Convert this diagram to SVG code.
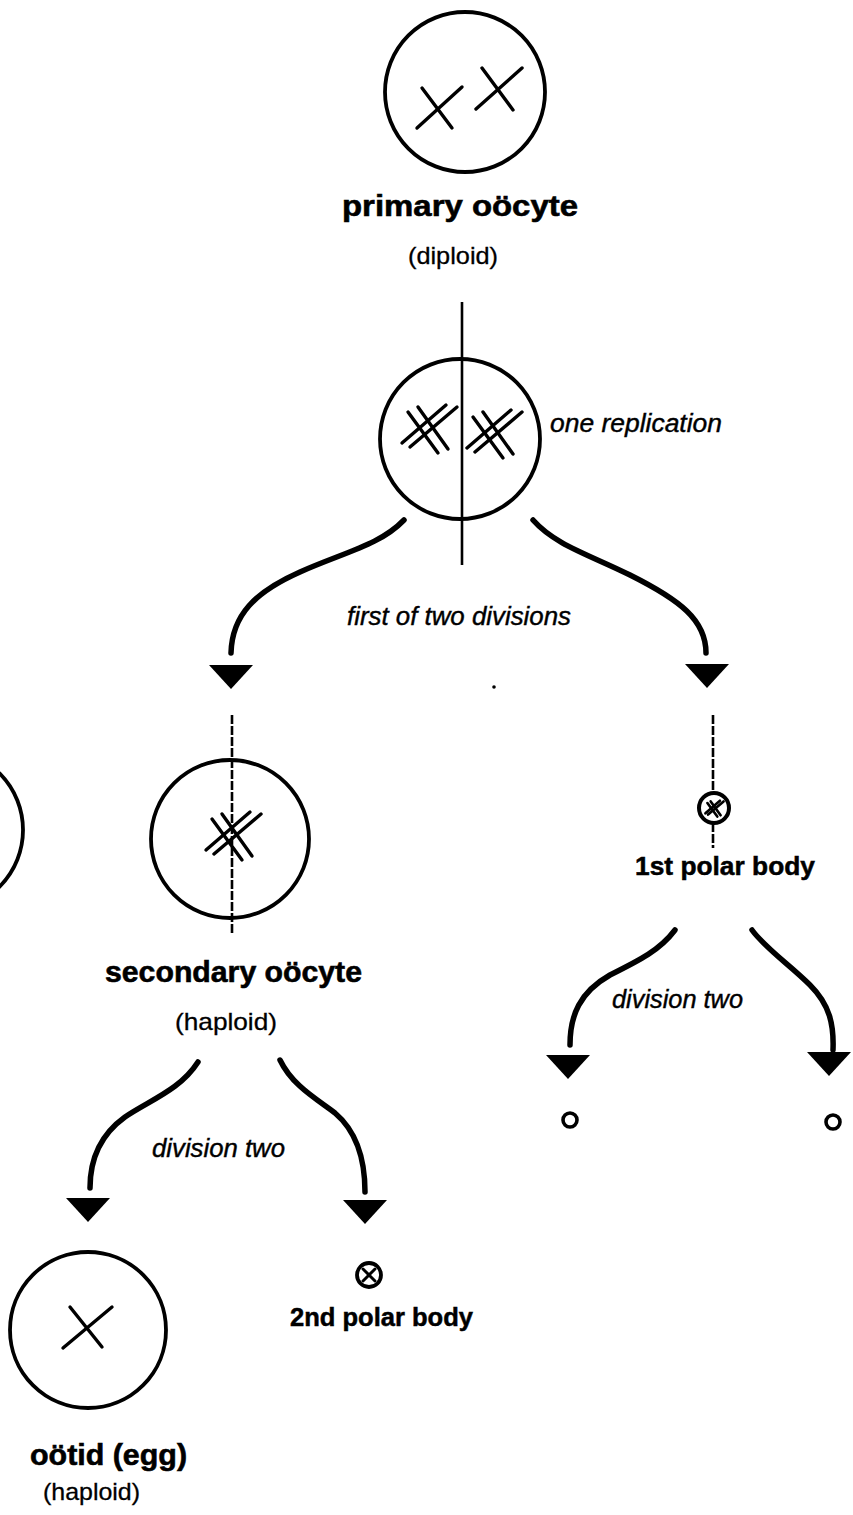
<svg xmlns="http://www.w3.org/2000/svg" width="853" height="1515" viewBox="0 0 853 1515">
<defs>
<style>
.cell{fill:none;stroke:#000;stroke-width:3.8}
.chr{stroke:#000;stroke-width:3.4;stroke-linecap:round;fill:none}
.axis{stroke:#000;stroke-width:2.6;fill:none}
.axis-d{stroke:#000;stroke-width:2.6;fill:none;stroke-dasharray:9 2}
.conn{fill:none;stroke:#000;stroke-width:5.5;stroke-linecap:round}
.head{fill:#000;stroke:none}
.lbl{font-family:"Liberation Sans",Arial,Helvetica,sans-serif;font-weight:bold;font-size:30px;fill:#000;stroke:#000;stroke-width:0.6}
.lbl-s{font-family:"Liberation Sans",Arial,Helvetica,sans-serif;font-weight:bold;font-size:26px;fill:#000;stroke:#000;stroke-width:0.5}
.sub{font-family:"Liberation Sans",Arial,Helvetica,sans-serif;font-size:24px;fill:#000;stroke:#000;stroke-width:0.3}
.note{font-family:"Liberation Sans",Arial,Helvetica,sans-serif;font-style:italic;font-size:25px;fill:#000;stroke:#000;stroke-width:0.4}
</style>
<g id="dx">
<line x1="-26" y1="16" x2="18" y2="-22"/>
<line x1="-18" y1="20" x2="29" y2="-20"/>
<line x1="-20" y1="-15" x2="10" y2="26"/>
<line x1="-10" y1="-20" x2="20" y2="22"/>
</g>
<path id="tri" d="M-22 0 L22 0 L0 24 Z"/>
</defs>
<rect width="853" height="1515" fill="#fff"/>

<g id="primary-oocyte">
<circle class="cell" cx="465" cy="92" r="80"/>
<line class="chr" x1="422" y1="88" x2="452" y2="128"/>
<line class="chr" x1="417" y1="128" x2="462" y2="87"/>
<line class="chr" x1="482" y1="68" x2="513" y2="110"/>
<line class="chr" x1="476" y1="109" x2="522" y2="68"/>
<text class="lbl" x="342" y="216" textLength="236" lengthAdjust="spacingAndGlyphs">primary oöcyte</text>
<text class="sub" x="408" y="264" textLength="90" lengthAdjust="spacingAndGlyphs">(diploid)</text>
</g>

<g id="replication">
<line class="axis" x1="462" y1="302" x2="462" y2="565"/>
<circle class="cell" cx="460" cy="439" r="80"/>
<use href="#dx" class="chr" transform="translate(428,427)"/>
<use href="#dx" class="chr" transform="translate(493,432)"/>
<text class="note" x="550" y="432" textLength="172" lengthAdjust="spacingAndGlyphs">one replication</text>
</g>

<g id="offscreen-cell">
<circle class="cell" cx="-57" cy="830" r="80"/>
</g>

<g id="secondary-oocyte">
<line class="axis-d" x1="232" y1="715" x2="232" y2="935"/>
<circle class="cell" cx="230" cy="839" r="79"/>
<use href="#dx" class="chr" transform="translate(232,834)"/>
<text class="lbl" x="105" y="982" textLength="257" lengthAdjust="spacingAndGlyphs">secondary oöcyte</text>
<text class="sub" x="175" y="1030" textLength="102" lengthAdjust="spacingAndGlyphs">(haploid)</text>
</g>

<g id="first-polar-body">
<line class="axis-d" x1="713" y1="715" x2="713" y2="793"/>
<line class="axis-d" x1="713" y1="823" x2="713" y2="848"/>
<circle cx="714" cy="808" r="15" fill="none" stroke="#000" stroke-width="4"/>
<use href="#dx" class="chr" transform="translate(714,808) scale(0.33)" style="stroke-width:8"/>
<text class="lbl-s" x="635" y="875" textLength="180" lengthAdjust="spacingAndGlyphs">1st polar body</text>
</g>

<g id="ootid">
<circle class="cell" cx="88" cy="1330" r="78"/>
<line class="chr" x1="63" y1="1348" x2="112" y2="1307"/>
<line class="chr" x1="70" y1="1307" x2="102" y2="1347"/>
<text class="lbl" x="30" y="1465" textLength="157" lengthAdjust="spacingAndGlyphs">oötid (egg)</text>
<text class="sub" x="43" y="1500" textLength="97" lengthAdjust="spacingAndGlyphs">(haploid)</text>
</g>

<g id="second-polar-body">
<circle cx="369" cy="1275" r="12" fill="none" stroke="#000" stroke-width="3.8"/>
<line class="chr" x1="363" y1="1269" x2="375" y2="1281" style="stroke-width:3"/>
<line class="chr" x1="375" y1="1269" x2="363" y2="1281" style="stroke-width:3"/>
<text class="lbl-s" x="290" y="1326" textLength="183" lengthAdjust="spacingAndGlyphs">2nd polar body</text>
</g>

<g id="polar-products">
<circle cx="570" cy="1120" r="7" fill="none" stroke="#000" stroke-width="3.6"/>
<circle cx="833" cy="1122" r="7" fill="none" stroke="#000" stroke-width="3.6"/>
</g>

<g id="connectors">
<path class="conn" d="M404 520 C380 545 345 552 300 572 C255 592 232 615 231 653"/>
<path class="conn" d="M533 520 C555 545 590 555 630 575 C680 600 706 620 706 653"/>
<use href="#tri" class="head" x="231" y="665"/>
<use href="#tri" class="head" x="707" y="664"/>
<text class="note" x="347" y="625" textLength="224" lengthAdjust="spacingAndGlyphs">first of two divisions</text>
<circle cx="494" cy="687" r="1.8" fill="#000"/>

<path class="conn" d="M198 1062 C180 1090 150 1100 125 1117 C100 1135 90 1160 90 1188"/>
<path class="conn" d="M280 1060 C292 1085 315 1098 335 1113 C355 1130 365 1155 365 1192"/>
<use href="#tri" class="head" x="88" y="1198"/>
<use href="#tri" class="head" x="365" y="1200"/>
<text class="note" x="152" y="1157" textLength="133" lengthAdjust="spacingAndGlyphs">division two</text>

<path class="conn" d="M675 930 C660 950 640 960 610 975 C580 992 570 1015 570 1045"/>
<path class="conn" d="M752 930 C765 948 790 965 810 985 C830 1005 834 1025 833 1050"/>
<use href="#tri" class="head" x="568" y="1055"/>
<use href="#tri" class="head" x="829" y="1052"/>
<text class="note" x="612" y="1008" textLength="131" lengthAdjust="spacingAndGlyphs">division two</text>
</g>
</svg>
